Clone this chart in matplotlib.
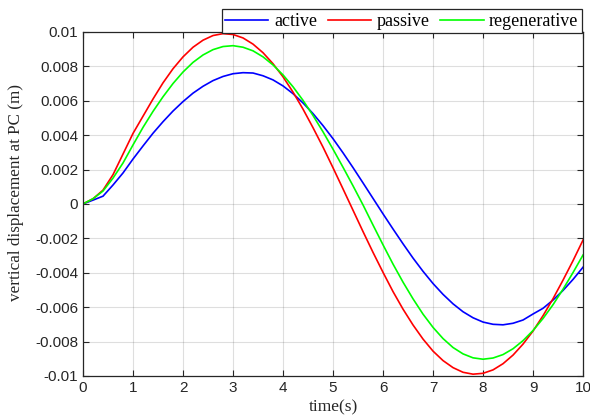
import matplotlib
matplotlib.use('Agg')
import matplotlib.pyplot as plt
import numpy as np

# time samples (s)
t = np.linspace(0, 10, 51)

# vertical displacement at PC (m)
active = [0, 0.00022, 0.00045, 0.0011, 0.0018, 0.00261, 0.00337, 0.00411, 0.00478, 0.0054,
          0.00595, 0.00644, 0.00684, 0.00717, 0.00741, 0.00757, 0.00763, 0.00761, 0.00745, 0.00721,
          0.00686, 0.00641, 0.00587, 0.00525, 0.00455, 0.00379, 0.00297, 0.00211, 0.00122, 0.00032,
          -0.00058, -0.00146, -0.00232, -0.00315, -0.00392, -0.00463, -0.00526, -0.00581, -0.00627, -0.00662,
          -0.00687, -0.007, -0.00703, -0.00694, -0.00675, -0.0064, -0.00607, -0.00559, -0.00503, -0.00439,
          -0.00368]
passive = [0, 0.0003, 0.0008, 0.0017, 0.0029, 0.0041, 0.0051, 0.0061, 0.00704, 0.00786,
           0.00855, 0.00911, 0.00952, 0.00979, 0.0099, 0.00985, 0.00965, 0.00929, 0.00879, 0.00815,
           0.00739, 0.0065, 0.00551, 0.00443, 0.0033, 0.0021, 0.00087, -0.00037, -0.00161, -0.00282,
           -0.00398, -0.0051, -0.00612, -0.00704, -0.00786, -0.00856, -0.00911, -0.00952, -0.00979, -0.0099,
           -0.00985, -0.00965, -0.00929, -0.00879, -0.00815, -0.00739, -0.0065, -0.00551, -0.00443, -0.0033,
           -0.0021]
regenerative = [0, 0.0003, 0.00075, 0.0015, 0.00238, 0.00343, 0.00445, 0.00538, 0.00623, 0.007,
                0.00767, 0.00823, 0.00866, 0.00897, 0.00915, 0.0092, 0.00911, 0.0089, 0.00855, 0.00808,
                0.0075, 0.00681, 0.00602, 0.00514, 0.00419, 0.00318, 0.00213, 0.00105, -0.00006, -0.00123,
                -0.00238, -0.0035, -0.00455, -0.00552, -0.00641, -0.00718, -0.00783, -0.00835, -0.00872, -0.00895,
                -0.00903, -0.00896, -0.00876, -0.00842, -0.00795, -0.00736, -0.00666, -0.00586, -0.00496, -0.00399,
                -0.00297]

xticks = np.arange(0, 11, 1)
yticks = np.arange(-0.01, 0.0101, 0.002)

plt.rcParams['axes.unicode_minus'] = False

fig = plt.figure(figsize=(5.9, 4.2), dpi=100)
ax = fig.add_axes([0.1407, 0.105, 0.8475, 0.819])

ax.plot(t, active, color=(0, 0, 1), lw=1.2, label='active')
ax.plot(t, passive, color=(1, 0, 0), lw=1.2, label='passive')
ax.plot(t, regenerative, color=(0, 1, 0), lw=1.2, label='regenerative')

ax.set_xlim(0, 10)
ax.set_ylim(-0.01, 0.01)
ax.set_xticks(xticks)
ax.set_yticks(yticks)
ax.set_yticklabels(['%g' % round(v, 3) for v in yticks])

ax.grid(True, color='#262626', alpha=0.15, lw=0.8)
ax.tick_params(direction='in', top=True, right=True, length=4, width=0.8,
               colors='#262626', labelsize=11)
for lab in ax.get_xticklabels() + ax.get_yticklabels():
    lab.set_family('Liberation Sans')
for s in ax.spines.values():
    s.set_color('#262626')
    s.set_linewidth(0.9)

ax.set_xlabel('time(s)', family='Liberation Serif', fontsize=12.5, color='#262626', labelpad=3)
ax.set_ylabel('vertical displacement at PC (m)', family='Liberation Serif', fontsize=12.3,
              color='#262626')
ax.yaxis.set_label_coords(-0.118, 0.532)

leg = ax.legend(ncol=3, loc='upper right', bbox_to_anchor=(0.998, 1.066), borderaxespad=0,
                fancybox=False, framealpha=1, edgecolor='#262626', handlelength=2.4,
                handletextpad=0.3, columnspacing=0.6, borderpad=0.2,
                prop={'family': 'Liberation Serif', 'size': 13})
leg.get_frame().set_linewidth(0.9)

fig.savefig('out.png', dpi=100)
